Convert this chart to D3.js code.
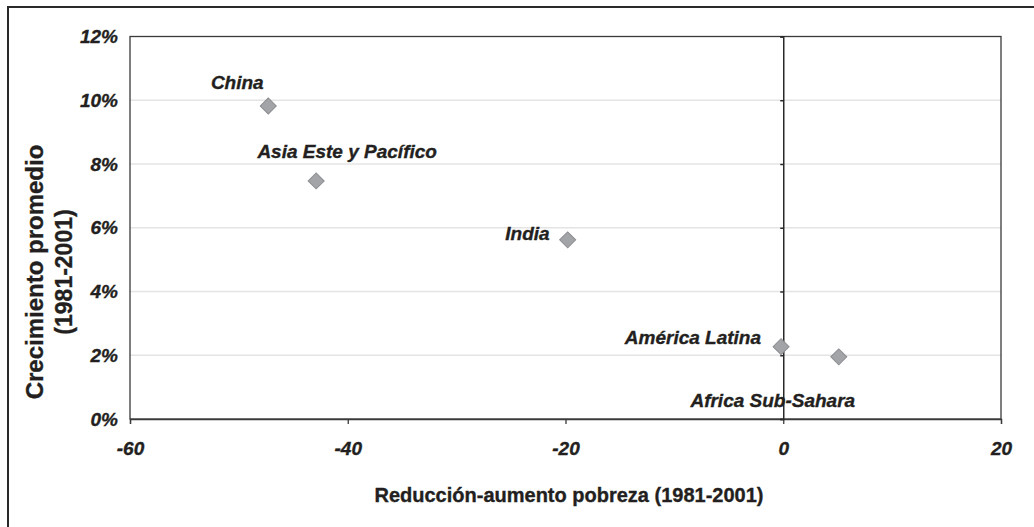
<!DOCTYPE html>
<html>
<head>
<meta charset="utf-8">
<script src="https://cdn.jsdelivr.net/npm/d3@7"></script>
<style>
  html, body { margin: 0; padding: 0; background: #fff; }
  svg { display: block; }
  text { font-family: "Liberation Sans", Arial, sans-serif; fill: #231f20; stroke: #231f20; stroke-width: 0.35px; }
</style>
</head>
<body>
<svg id="chart" width="1034" height="527"></svg>
<script>
// ---- Data ----
const regions = ["China", "Asia Este y Pacífico", "India", "América Latina", "Africa Sub-Sahara"];
const povertyChange = [-47.3, -42.9, -19.8, -0.2, 5.1];   // x: Reducción-aumento pobreza (1981-2001)
const avgGrowth = [9.82, 7.47, 5.62, 2.27, 1.95];          // y: Crecimiento promedio (%)
const xTicks = [-60, -40, -20, 0, 20];
const yTicks = [0, 2, 4, 6, 8, 10, 12];
const xTitle = "Reducción-aumento pobreza (1981-2001)";
const yTitleLines = ["Crecimiento promedio", "(1981-2001)"];

// ---- Label placement (style, relative to each point) ----
const labelPlacement = [
  { dx: -31, dy: -17, anchor: "middle" },
  { dx: 31, dy: -23, anchor: "middle" },
  { dx: -18, dy: 0, anchor: "end" },
  { dx: -20, dy: -3, anchor: "end" },
  { dx: -66, dy: 50, anchor: "middle" }
];

const svg = d3.select("#chart");
const W = 1034, H = 527;
const plot = { left: 130, right: 1001, top: 36.5, bottom: 419 };

const x = d3.scaleLinear().domain([-60, 20]).range([plot.left, plot.right]);
const y = d3.scaleLinear().domain([0, 12]).range([plot.bottom, plot.top]);

// Outer frame
svg.append("rect")
  .attr("x", 8).attr("y", 7)
  .attr("width", W + 10).attr("height", H + 10)
  .attr("fill", "none").attr("stroke", "#2a2a2a").attr("stroke-width", 2);

// Gridlines
svg.append("g")
  .selectAll("line")
  .data(yTicks.filter(d => d > 0 && d < 12))
  .join("line")
  .attr("x1", plot.left).attr("x2", plot.right)
  .attr("y1", d => y(d)).attr("y2", d => y(d))
  .attr("stroke", "#e4e4e4").attr("stroke-width", 1.5);

// Plot border
svg.append("rect")
  .attr("x", plot.left).attr("y", plot.top)
  .attr("width", plot.right - plot.left).attr("height", plot.bottom - plot.top)
  .attr("fill", "none").attr("stroke", "#3a3a3a").attr("stroke-width", 1.3);

// X axis
const xAxis = d3.axisBottom(x)
  .tickValues(xTicks)
  .tickSize(5)
  .tickPadding(18)
  .tickFormat(d => String(d).replace("−", "-"));
const gx = svg.append("g")
  .attr("transform", `translate(0,${plot.bottom})`)
  .call(xAxis);
gx.select(".domain").attr("stroke", "#3a3a3a").attr("stroke-width", 1.3);
gx.selectAll(".tick line").attr("stroke", "#3a3a3a").attr("stroke-width", 1.3);
gx.selectAll(".tick text")
  .attr("fill", "#231f20")
  .style("font-size", "19px").style("font-weight", "bold").style("font-style", "italic")
  .attr("font-family", null);

// Y axis labels (left)
const yAxis = d3.axisLeft(y)
  .tickValues(yTicks)
  .tickSize(0)
  .tickPadding(12)
  .tickFormat(d => d + "%");
const gy = svg.append("g")
  .attr("transform", `translate(${plot.left},0)`)
  .call(yAxis);
gy.select(".domain").remove();
gy.selectAll(".tick text")
  .attr("fill", "#231f20")
  .style("font-size", "19px").style("font-weight", "bold").style("font-style", "italic")
  .attr("font-family", null);

// Y axis crossing at x = 0
const yAxis0 = d3.axisLeft(y).tickValues(yTicks).tickSize(3).tickFormat("");
const gy0 = svg.append("g")
  .attr("transform", `translate(${x(0)},0)`)
  .call(yAxis0);
gy0.select(".domain").attr("stroke", "#2a2a2a").attr("stroke-width", 1.5);
gy0.selectAll(".tick line").attr("stroke", "#2a2a2a").attr("stroke-width", 1.5);

// Points
const pts = regions.map((r, i) => ({ name: r, px: povertyChange[i], py: avgGrowth[i], lab: labelPlacement[i] }));
const diamond = d3.symbol().type(d3.symbolSquare).size(128);
svg.append("g")
  .selectAll("path")
  .data(pts)
  .join("path")
  .attr("d", diamond)
  .attr("transform", d => `translate(${x(d.px)},${y(d.py)}) rotate(45)`)
  .attr("fill", "#a2a4a8")
  .attr("stroke", "#8b8d91")
  .attr("stroke-width", 1);

// Point labels
svg.append("g")
  .selectAll("text")
  .data(pts)
  .join("text")
  .attr("x", d => x(d.px) + d.lab.dx)
  .attr("y", d => y(d.py) + d.lab.dy)
  .attr("text-anchor", d => d.lab.anchor)
  .style("font-size", "19px").style("font-weight", "bold").style("font-style", "italic")
  .text(d => d.name);

// X title
svg.append("text")
  .attr("x", 569).attr("y", 502)
  .attr("text-anchor", "middle")
  .style("font-size", "20px").style("font-weight", "bold")
  .text(xTitle);

// Y title
const yt = svg.append("g").attr("transform", "translate(0,272) rotate(-90)");
yt.selectAll("text")
  .data(yTitleLines)
  .join("text")
  .attr("x", 0)
  .attr("y", (d, i) => i === 0 ? 43 : 72)
  .attr("text-anchor", "middle")
  .style("font-size", (d, i) => i === 0 ? "24px" : "23px")
  .style("font-weight", "bold")
  .text(d => d);
</script>
</body>
</html>
